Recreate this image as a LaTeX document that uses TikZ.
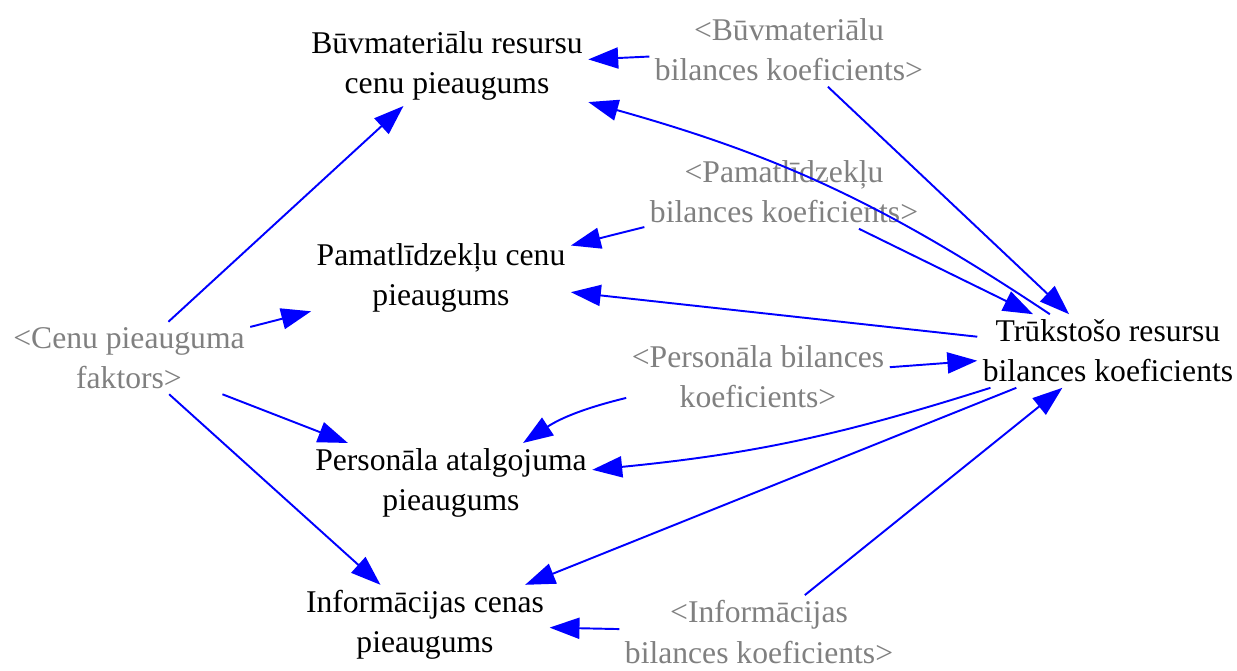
\documentclass[tikz,border=0pt]{standalone}
\usepackage{fontspec}
\setmainfont{Liberation Serif}
\usetikzlibrary{arrows.meta}
\definecolor{shgray}{RGB}{128,128,128}
\begin{document}
\begin{tikzpicture}[x=0.02cm, y=-0.02cm,
  font=\fontsize{18}{22.8}\selectfont, inner sep=3pt,
  v/.style={align=center},
  sh/.style={v, text=shgray},
  ar/.style={-{Triangle[length=17pt,width=12pt]}, blue, line width=1.1pt}]
\useasboundingbox (0,0) rectangle (1237,670);
\node[v] (buv) at (447,66) {Būvmateriālu resursu\\cenu pieaugums};
\node[sh] (buvk) at (789,50) {<Būvmateriālu\\bilances koeficients>};
\node[sh] (pamk) at (784,192) {<Pamatlīdzekļu\\bilances koeficients>};
\node[v] (pam) at (441,278) {Pamatlīdzekļu cenu\\pieaugums};
\node[sh] (cenu) at (129,358) {<Cenu pieauguma\\faktors>};
\node[v] (trk) at (1108,351) {Trūkstošo resursu\\bilances koeficients};
\node[sh] (perk) at (758,377) {<Personāla bilances\\koeficients>};
\node[v] (per) at (451,483) {Personāla atalgojuma\\pieaugums};
\node[v] (inf) at (425,625) {Informācijas cenas\\pieaugums};
\node[sh] (infk) at (759,632) {<Informācijas\\bilances koeficients>};
\draw[ar] (buvk) -- (buv);
\draw[ar] (trk) to[bend right=9] (buv);
\draw[ar] (buvk) -- (trk);
\draw[ar] (pamk) -- (pam);
\draw[ar] (pamk) -- (trk);
\draw[ar] (trk) -- (pam);
\draw[ar] (cenu) -- (buv);
\draw[ar] (cenu) -- (pam);
\draw[ar] (cenu) -- (per);
\draw[ar] (cenu) -- (inf);
\draw[ar] (perk) -- (trk);
\draw[ar] (perk) to[bend right=10] (per);
\draw[ar] (trk) to[bend left=6] (per);
\draw[ar] (trk) -- (inf);
\draw[ar] (infk) -- (trk);
\draw[ar] (infk) -- (inf);
\end{tikzpicture}
\end{document}
